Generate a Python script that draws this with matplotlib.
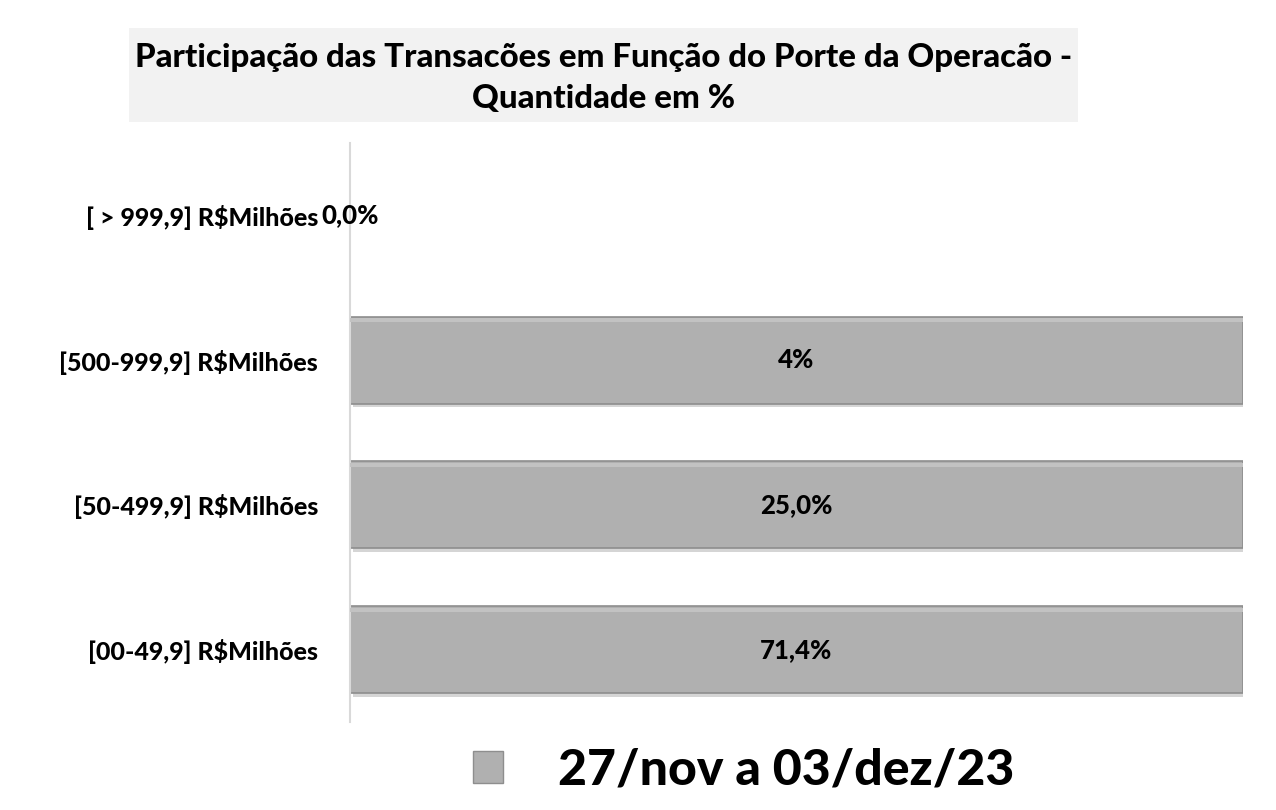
import matplotlib
matplotlib.use("Agg")
import matplotlib.pyplot as plt
from matplotlib.patches import Rectangle, Patch

plt.rcParams["font.family"] = ["Lato", "DejaVu Sans"]
PESO = "black"

# dados (de baixo para cima)
categorias = ["[00-49,9] R$Milhões", "[50-499,9] R$Milhões",
              "[500-999,9] R$Milhões", "[ > 999,9] R$Milhões"]
valores = [71.4, 25.0, 4.0, 0.0]
rotulos = ["71,4%", "25,0%", "4%", "0,0%"]
serie = "27/nov a 03/dez/23"
titulo = "Participação das Transacões em Função do Porte da Operacão -\nQuantidade em %"

# gráfico 100% empilhado com uma única série
larguras = [100.0 * v / v if v > 0 else 0.0 for v in valores]

fig = plt.figure(figsize=(12.76, 8.10), dpi=100)
ax = fig.add_axes([350 / 1276, 1 - 722 / 810, (1243 - 350) / 1276, (722 - 143) / 810])

ypos = list(range(len(categorias)))
# sombra
ax.barh([y - 0.025 for y in ypos], [w - 0.3 if w else 0 for w in larguras],
        height=0.6, left=0.3, color="#D5D5D5", zorder=1)
bars = ax.barh(ypos, larguras, height=0.6, color="#B0B0B0",
               edgecolor="#8E8E8E", linewidth=1.2, zorder=2)
# brilho no topo
ax.barh([y + 0.275 for y in ypos], larguras, height=0.03,
        color="#C2C2C2", linewidth=0, zorder=3)

for b, lab in zip(bars, rotulos):
    ax.text(b.get_x() + b.get_width() / 2, b.get_y() + b.get_height() / 2,
            lab, ha="center", va="center", fontsize=18.5, fontweight=PESO,
            color="black", zorder=4)

ax.set_xlim(0, 100)
ax.set_ylim(-0.5, len(categorias) - 0.5)
ax.set_yticks(ypos)
ax.set_yticklabels(categorias, fontsize=18, fontweight=PESO)
ax.tick_params(axis="y", length=0, pad=23)
ax.set_xticks([])
for s in ["top", "right", "bottom"]:
    ax.spines[s].set_visible(False)
ax.spines["left"].set_color("#D9D9D9")
ax.spines["left"].set_linewidth(1.5)

# título com fundo cinza
fig.patches.append(Rectangle((129 / 1276, 1 - 122 / 810), (1078 - 129) / 1276,
                             (122 - 28) / 810, transform=fig.transFigure,
                             facecolor="#F2F2F2", edgecolor="none", zorder=0))
fig.text(604 / 1276, 1 - 78 / 810, titulo, ha="center", va="center",
         fontsize=23.8, fontweight=PESO, linespacing=1.5)

# legenda
leg = fig.legend(handles=[Patch(facecolor="#B0B0B0", edgecolor="#8E8E8E")],
                 labels=[serie], loc="center", bbox_to_anchor=(744 / 1276, 1 - 770 / 810),
                 frameon=False, fontsize=36, handlelength=0.6, handleheight=0.6,
                 handletextpad=1.1)
for t in leg.get_texts():
    t.set_fontweight(PESO)

fig.savefig("out.png", dpi=100)
